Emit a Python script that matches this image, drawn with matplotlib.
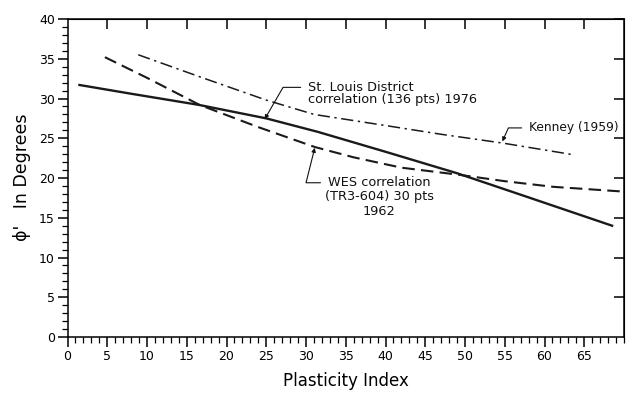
import matplotlib
matplotlib.use("Agg")
import matplotlib.pyplot as plt
from matplotlib.ticker import MultipleLocator

# St. Louis District correlation (solid)
stl_pi = [1.5, 8, 16.5, 25, 31.5, 40, 49, 57, 68.5]
stl_phi = [31.7, 30.6, 29.2, 27.5, 25.8, 23.3, 20.6, 17.9, 14.0]

# WES correlation (dashed)
wes_pi = [4.7, 10, 16.6, 24, 31.1, 36, 42, 49.3, 55, 61, 69.8]
wes_phi = [35.2, 32.6, 29.2, 26.4, 23.9, 22.6, 21.3, 20.4, 19.6, 18.9, 18.3]

# Kenney (1959) (dash-dot)
ken_pi = [8.9, 17, 25, 31, 40, 47, 54.7, 63.8]
ken_phi = [35.5, 32.6, 29.8, 28.0, 26.6, 25.5, 24.4, 22.9]

x_ticks = list(range(0, 70, 5))
y_ticks = list(range(0, 45, 5))

fig = plt.figure(figsize=(6.4, 3.95), dpi=100)
ax = fig.add_axes([0.1055, 0.1468, 0.8695, 0.8051])

ax.plot(stl_pi, stl_phi, color="#1a1a1a", lw=1.7)
ax.plot(wes_pi, wes_phi, color="#1a1a1a", lw=1.5, linestyle=(0, (6, 3)))
ax.plot(ken_pi, ken_phi, color="#1a1a1a", lw=1.1, linestyle=(0, (8, 3, 1.5, 3)))

ax.set_xlim(0, 70)
ax.set_ylim(0, 40)
ax.set_xticks(x_ticks)
ax.set_yticks(y_ticks)
ax.xaxis.set_minor_locator(MultipleLocator(1))
ax.yaxis.set_minor_locator(MultipleLocator(1))
ax.tick_params(which="major", direction="out", length=7, width=1.1, labelsize=9, pad=2)
ax.tick_params(which="minor", direction="out", length=4, width=0.9)
for sp in ax.spines.values():
    sp.set_linewidth(1.1)

top = ax.secondary_xaxis("top")
top.set_xticks(x_ticks[1:])
top.tick_params(direction="in", length=7, width=1.1, labeltop=False)
right = ax.secondary_yaxis("right")
right.set_yticks(y_ticks[1:])
right.tick_params(direction="in", length=7, width=1.1, labelright=False)

fig.text(0.54, 0.035, "Plasticity Index", fontsize=12, ha="center", va="center")
fig.text(0.034, 0.55, "\u03d5'   In Degrees", rotation=90, fontsize=12.5,
         ha="center", va="center")

txt = dict(color="#111111")


def leader(angle_b, relpos=(0.0, 0.75), shrink=3):
    return dict(arrowstyle="-|>", color="#111111", lw=0.8, mutation_scale=6,
                shrinkA=shrink, shrinkB=0, relpos=relpos,
                connectionstyle=f"angle,angleA=0,angleB={angle_b},rad=0")


ax.annotate("St. Louis District\ncorrelation (136 pts) 1976",
            xy=(24.8, 27.4), xytext=(30.2, 30.6), ha="left", va="center",
            arrowprops=leader(60), linespacing=0.95, fontsize=9.3, **txt)
ax.annotate("Kenney (1959)",
            xy=(54.7, 24.6), xytext=(58.0, 26.3), ha="left", va="center",
            arrowprops=leader(66, (0.0, 0.5)), fontsize=8.8, **txt)
ax.annotate("WES correlation\n(TR3-604) 30 pts\n1962",
            xy=(31.1, 23.8), xytext=(39.2, 20.3), ha="center", va="top",
            arrowprops=leader(76, (0.0, 0.83), shrink=1), linespacing=1.15,
            fontsize=9.3, **txt)

fig.savefig("out.png", dpi=100)
